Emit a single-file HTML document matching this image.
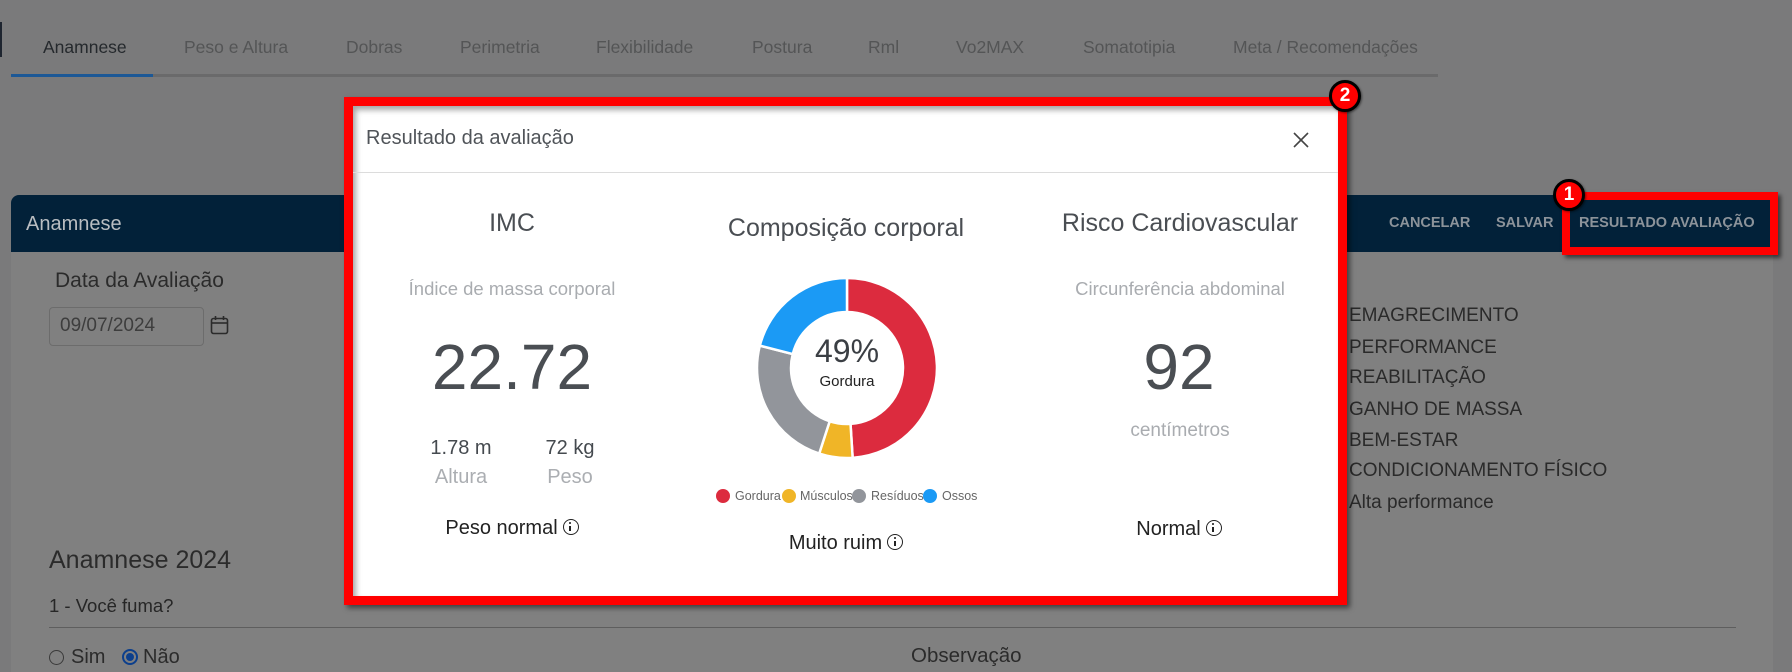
<!DOCTYPE html>
<html><head><meta charset="utf-8">
<style>
*{margin:0;padding:0;box-sizing:border-box}
html,body{width:1792px;height:664px;overflow:hidden;background:#7a7a7b;font-family:"Liberation Sans",Arial,sans-serif}
.a{position:absolute;white-space:nowrap;line-height:1}
.c{position:absolute;white-space:nowrap;line-height:1;text-align:center;width:600px}
.tab{font-size:17.5px;color:#545556;top:39px}
.lst{font-size:19px;color:#2a2a2a;left:1349px}
.btn{font-size:14.5px;font-weight:bold;color:#8c939a;top:216px}
.info{display:inline-block;width:16px;height:16px;border:1.6px solid #222;border-radius:50%;vertical-align:-1px;margin-left:5px;position:relative}
.info:before{content:"";position:absolute;left:5.6px;top:2.4px;width:1.8px;height:1.8px;background:#222;border-radius:50%}
.info:after{content:"";position:absolute;left:5.6px;top:5.6px;width:1.8px;height:5.6px;background:#222}
.dot{position:absolute;width:14px;height:14px;border-radius:50%;top:489px}
.leg{font-size:12.5px;color:#666;top:489.5px}
.badge{position:absolute;width:32px;height:32px;border-radius:50%;background:#f00;border:3px solid #000;color:#fff;font-weight:bold;font-size:19px;line-height:26px;text-align:center;box-shadow:1px 1px 2px rgba(0,0,0,.5)}
</style></head><body>

<!-- left dark mark -->
<div style="position:absolute;left:0;top:22px;width:2px;height:35px;background:#1e2530"></div>

<!-- tabs -->
<div class="a tab" style="left:43px;color:#25292d">Anamnese</div>
<div class="a tab" style="left:184px">Peso e Altura</div>
<div class="a tab" style="left:346px">Dobras</div>
<div class="a tab" style="left:460px">Perimetria</div>
<div class="a tab" style="left:596px">Flexibilidade</div>
<div class="a tab" style="left:752px">Postura</div>
<div class="a tab" style="left:868px">Rml</div>
<div class="a tab" style="left:956px">Vo2MAX</div>
<div class="a tab" style="left:1083px">Somatotipia</div>
<div class="a tab" style="left:1233px">Meta / Recomendações</div>
<div style="position:absolute;left:11px;top:74px;width:1427px;height:3px;background:#6a6a6b"></div>
<div style="position:absolute;left:11px;top:74px;width:142px;height:3px;background:#1c5896"></div>

<!-- card -->
<div style="position:absolute;left:11px;top:252px;width:1762px;height:420px;background:#808080"></div>
<div style="position:absolute;left:11px;top:195px;width:1762px;height:57px;background:#022139;border-radius:8px 8px 0 0"></div>
<div class="a" style="left:26px;top:214px;font-size:20px;color:#b9bdc1">Anamnese</div>
<div class="a btn" style="left:1389px">CANCELAR</div>
<div class="a btn" style="left:1496px">SALVAR</div>
<div class="a btn" style="left:1579px">RESULTADO AVALIAÇÃO</div>

<!-- left content -->
<div class="a" style="left:55px;top:270px;font-size:21px;color:#2b2b2b">Data da Avaliação</div>
<div style="position:absolute;left:49px;top:307px;width:155px;height:39px;border:1px solid #6c6c6c;border-radius:4px"></div>
<div class="a" style="left:60px;top:316px;font-size:19px;color:#3d3d3d">09/07/2024</div>
<svg style="position:absolute;left:210px;top:315px" width="20" height="20" viewBox="0 0 20 20">
<rect x="1.5" y="3.5" width="16" height="15" rx="2" fill="none" stroke="#2b2b2b" stroke-width="1.6"/>
<line x1="1.5" y1="8" x2="17.5" y2="8" stroke="#2b2b2b" stroke-width="1.6"/>
<line x1="5.5" y1="1" x2="5.5" y2="5" stroke="#2b2b2b" stroke-width="1.6"/>
<line x1="13.5" y1="1" x2="13.5" y2="5" stroke="#2b2b2b" stroke-width="1.6"/>
</svg>
<div class="a" style="left:49px;top:548px;font-size:25px;color:#2b2b2b">Anamnese 2024</div>
<div class="a" style="left:49px;top:597px;font-size:18.5px;color:#262626">1 - Você fuma?</div>
<div style="position:absolute;left:49px;top:627px;width:1687px;height:1px;background:#5e5e5e"></div>
<div style="position:absolute;left:49px;top:650px;width:15px;height:15px;border:1.5px solid #3a3a3a;border-radius:50%"></div>
<div class="a" style="left:71px;top:647px;font-size:20px;color:#2b2b2b">Sim</div>
<div style="position:absolute;left:122px;top:649px;width:16px;height:16px;border:2px solid #0c3f8c;border-radius:50%;background:#808080"></div>
<div style="position:absolute;left:126px;top:653px;width:8px;height:8px;border-radius:50%;background:#0c3f8c"></div>
<div class="a" style="left:143px;top:647px;font-size:20px;color:#2b2b2b">Não</div>
<div class="a" style="left:911px;top:646px;font-size:20.5px;color:#2b2b2b">Observação</div>

<!-- right list -->
<div class="a lst" style="top:306px">EMAGRECIMENTO</div>
<div class="a lst" style="top:338px">PERFORMANCE</div>
<div class="a lst" style="top:368px">REABILITAÇÃO</div>
<div class="a lst" style="top:400px">GANHO DE MASSA</div>
<div class="a lst" style="top:431px">BEM-ESTAR</div>
<div class="a lst" style="top:461px">CONDICIONAMENTO FÍSICO</div>
<div class="a lst" style="top:493px">Alta performance</div>

<!-- red box 1 -->
<div style="position:absolute;left:1562px;top:192px;width:216px;height:63px;border:8px solid #f00;box-shadow:3px 3px 4px rgba(0,0,0,.55)"></div>
<div class="badge" style="left:1553px;top:179px">1</div>

<!-- modal -->
<div style="position:absolute;left:344px;top:97px;width:1003px;height:508px;border:9px solid #f00;background:#fff;box-shadow:3px 3px 5px rgba(0,0,0,.5), inset 3px 4px 6px rgba(0,0,0,.35)"></div>
<div class="a" style="left:366px;top:128px;font-size:20px;color:#505459">Resultado da avaliação</div>
<svg style="position:absolute;left:1293px;top:132px" width="16" height="16" viewBox="0 0 16 16">
<line x1="1" y1="1" x2="15" y2="15" stroke="#444" stroke-width="1.6"/>
<line x1="15" y1="1" x2="1" y2="15" stroke="#444" stroke-width="1.6"/>
</svg>
<div style="position:absolute;left:353px;top:172px;width:985px;height:1px;background:#dcdcdc"></div>

<!-- IMC column -->
<div class="c" style="left:212px;top:211px;font-size:25px;color:#4a4e53">IMC</div>
<div class="c" style="left:212px;top:280px;font-size:18.5px;color:#a9acb0">Índice de massa corporal</div>
<div class="c" style="left:212px;top:335px;font-size:64px;color:#4a4e53">22.72</div>
<div class="c" style="left:161px;top:438px;font-size:20px;color:#454a4f">1.78 m</div>
<div class="c" style="left:270px;top:438px;font-size:20px;color:#454a4f">72 kg</div>
<div class="c" style="left:161px;top:467px;font-size:20px;color:#abaeb2">Altura</div>
<div class="c" style="left:270px;top:467px;font-size:20px;color:#abaeb2">Peso</div>
<div class="c" style="left:212px;top:518px;font-size:20px;color:#222">Peso normal<span class="info"></span></div>

<!-- Composição column -->
<div class="c" style="left:546px;top:216px;font-size:25px;color:#4a4e53">Composição corporal</div>
<svg style="position:absolute;left:0;top:0" width="1792" height="664" viewBox="0 0 1792 664">
<g stroke="#fff" stroke-width="2.5" stroke-linejoin="miter">
<path d="M847,278 A90,90 0 0 1 852.65,457.82 L850.52,423.89 A56,56 0 0 0 847,312 Z" fill="#dc2b3e"/>
<path d="M852.65,457.82 A90,90 0 0 1 819.19,453.59 L829.70,421.26 A56,56 0 0 0 850.52,423.89 Z" fill="#f0b527"/>
<path d="M819.19,453.59 A90,90 0 0 1 759.83,345.62 L792.76,354.07 A56,56 0 0 0 829.70,421.26 Z" fill="#92959b"/>
<path d="M759.83,345.62 A90,90 0 0 1 847,278 L847,312 A56,56 0 0 0 792.76,354.07 Z" fill="#1b9af5"/>
</g>
</svg>
<div class="c" style="left:547px;top:335px;font-size:32px;color:#3b3f44">49%</div>
<div class="c" style="left:547px;top:374px;font-size:15px;color:#222">Gordura</div>
<div class="dot" style="left:716px;background:#dc2b3e"></div>
<div class="a leg" style="left:735px">Gordura</div>
<div class="dot" style="left:782px;background:#f0b527"></div>
<div class="a leg" style="left:800px">Músculos</div>
<div class="dot" style="left:852px;background:#92959b"></div>
<div class="a leg" style="left:871px">Resíduos</div>
<div class="dot" style="left:923px;background:#1b9af5"></div>
<div class="a leg" style="left:942px">Ossos</div>
<div class="c" style="left:546px;top:533px;font-size:20px;color:#222">Muito ruim<span class="info"></span></div>

<!-- Risco column -->
<div class="c" style="left:880px;top:211px;font-size:25px;color:#4a4e53">Risco Cardiovascular</div>
<div class="c" style="left:880px;top:280px;font-size:18.5px;color:#a9acb0">Circunferência abdominal</div>
<div class="c" style="left:879px;top:335px;font-size:64px;color:#4a4e53">92</div>
<div class="c" style="left:880px;top:421px;font-size:19px;color:#a9acb0">centímetros</div>
<div class="c" style="left:879px;top:519px;font-size:20px;color:#222">Normal<span class="info"></span></div>

<div class="badge" style="left:1329px;top:80px">2</div>
</body></html>
